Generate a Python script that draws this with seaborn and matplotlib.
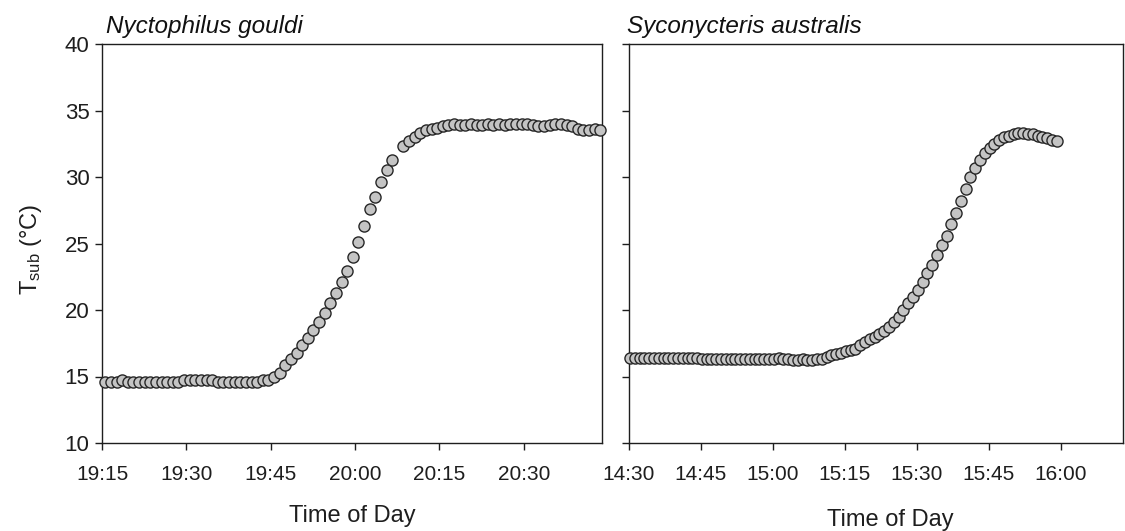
import numpy as np
import pandas as pd
import matplotlib
matplotlib.use("Agg")
import matplotlib.pyplot as plt
import seaborn as sns

# ---------------- data ----------------
left_species = "Nyctophilus gouldi"
right_species = "Syconycteris australis"

# minutes after 19:15, one reading per minute
left_start = 0.6
left_tsub = [
    14.6, 14.6, 14.6, 14.7, 14.6, 14.6, 14.6, 14.6, 14.6, 14.6,
    14.6, 14.6, 14.6, 14.6, 14.7, 14.7, 14.7, 14.7, 14.7, 14.7,
    14.6, 14.6, 14.6, 14.6, 14.6, 14.6, 14.6, 14.6, 14.7, 14.75,
    15.0, 15.3, 15.9, 16.3, 16.8, 17.4, 17.9, 18.5, 19.1, 19.8,
    20.5, 21.3, 22.1, 22.9, 24.0, 25.1, 26.3, 27.6, 28.5, 29.6,
    30.5, 31.3, np.nan, 32.3, 32.7, 33.0, 33.3, 33.5, 33.6, 33.7,
    33.8, 33.9, 34.0, 33.9, 33.9, 34.0, 33.9, 33.9, 34.0, 33.9,
    34.0, 33.9, 34.0, 34.0, 34.0, 34.0, 33.9, 33.8, 33.8, 33.9,
    34.0, 34.0, 33.9, 33.8, 33.6, 33.5, 33.5, 33.6, 33.5,
]

# minutes after 14:30, one reading per minute
right_start = 0.2
right_tsub = [
    16.4, 16.4, 16.4, 16.4, 16.4, 16.4, 16.4, 16.4, 16.4, 16.4,
    16.4, 16.4, 16.4, 16.4, 16.4, 16.3, 16.3, 16.3, 16.3, 16.3,
    16.3, 16.3, 16.3, 16.3, 16.3, 16.3, 16.3, 16.3, 16.3, 16.35,
    16.35, 16.4, 16.35, 16.35, 16.25, 16.25, 16.3, 16.25, 16.25, 16.3,
    16.35, 16.5, 16.6, 16.7, 16.8, 16.9, 17.0, 17.1, 17.4, 17.6,
    17.8, 18.0, 18.2, 18.4, 18.7, 19.1, 19.5, 20.0, 20.5, 21.0,
    21.5, 22.1, 22.8, 23.4, 24.1, 24.9, 25.6, 26.5, 27.3, 28.2,
    29.1, 30.0, 30.7, 31.3, 31.8, 32.2, 32.5, 32.8, 33.0, 33.1,
    33.2, 33.3, 33.3, 33.2, 33.2, 33.1, 33.0, 32.9, 32.8, 32.7,
]

left_tick_minutes = [0, 15, 30, 45, 60, 75]
left_tick_labels = ["19:15", "19:30", "19:45", "20:00", "20:15", "20:30"]
right_tick_minutes = [0, 15, 30, 45, 60, 75, 90]
right_tick_labels = ["14:30", "14:45", "15:00", "15:15", "15:30", "15:45", "16:00"]
y_ticks = [10, 15, 20, 25, 30, 35, 40]

left_df = pd.DataFrame({
    "minutes": left_start + np.arange(len(left_tsub)),
    "tsub": left_tsub,
})
right_df = pd.DataFrame({
    "minutes": right_start + np.arange(len(right_tsub)),
    "tsub": right_tsub,
})

# ---------------- style ----------------
sns.set_style("ticks")
plt.rcParams["font.family"] = ["Liberation Sans", "DejaVu Sans"]
plt.rcParams["mathtext.fontset"] = "custom"
plt.rcParams["mathtext.rm"] = "Liberation Sans"
plt.rcParams["mathtext.it"] = "Liberation Sans:italic"

ink = "#1e1e1e"

fig = plt.figure(figsize=(11.25, 5.31), dpi=100)
ax1 = fig.add_axes([102 / 1125, 88 / 531, 500 / 1125, 399 / 531])
ax2 = fig.add_axes([629 / 1125, 88 / 531, 494 / 1125, 399 / 531])

marker_kw = dict(marker="o", s=64, color="#c4c4c4", edgecolor="#262626",
                 linewidth=1.0, zorder=3, legend=False)

sns.scatterplot(data=left_df, x="minutes", y="tsub", ax=ax1, **marker_kw)
sns.scatterplot(data=right_df, x="minutes", y="tsub", ax=ax2, **marker_kw)

for ax in (ax1, ax2):
    for side in ("top", "right", "left", "bottom"):
        ax.spines[side].set_visible(True)
        ax.spines[side].set_color(ink)
        ax.spines[side].set_linewidth(1.0)
    ax.set_ylim(10, 40)
    ax.set_yticks(y_ticks)
    ax.tick_params(axis="both", direction="out", length=5, width=1,
                   colors=ink)
    ax.tick_params(axis="y", labelsize=16, pad=4)
    ax.tick_params(axis="x", labelsize=15, pad=11)
    for c in ax.collections:
        c.set_clip_on(False)

ax1.set_xlim(0, 88.9)
ax1.set_xticks(left_tick_minutes)
ax1.set_xticklabels(left_tick_labels)
ax1.set_yticklabels([str(v) for v in y_ticks])

ax2.set_xlim(0, 103)
ax2.set_xticks(right_tick_minutes)
ax2.set_xticklabels(right_tick_labels)
ax2.set_yticklabels([])

ax1.set_xlabel("Time of Day", fontsize=17, color=ink)
ax2.set_xlabel("Time of Day", fontsize=17, color=ink)
ax1.xaxis.set_label_coords(0.5, -0.156)
ax2.xaxis.set_label_coords(0.528, -0.165)

ax1.set_ylabel(r"T$_{\mathrm{sub}}$ (°C)", fontsize=17, color=ink)
ax1.yaxis.set_label_coords(-0.117, 0.485)
ax2.set_ylabel("")

ax1.text(0.008, 1.016, left_species, transform=ax1.transAxes, fontsize=17.5,
         style="italic", ha="left", va="bottom", color="#111111")
ax2.text(-0.004, 1.016, right_species, transform=ax2.transAxes, fontsize=17.5,
         style="italic", ha="left", va="bottom", color="#111111")

fig.savefig("out.png", dpi=100, facecolor="white")
